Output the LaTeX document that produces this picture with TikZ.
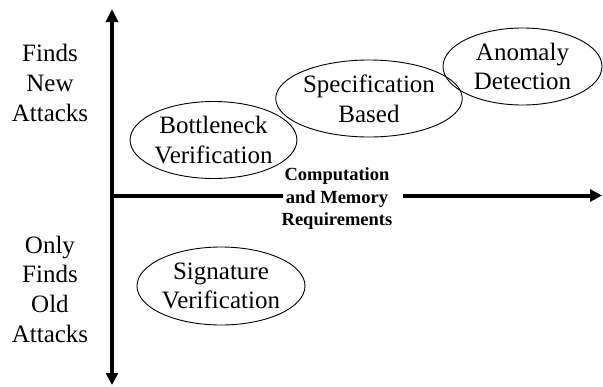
\documentclass[tikz,border=0pt]{standalone}
\usepackage{fontspec}
\setmainfont{Liberation Serif}
\usetikzlibrary{shapes.geometric,arrows.meta}
\begin{document}
\begin{tikzpicture}[x=1pt,y=-1pt,
  axis/.style={line width=4pt,-{Triangle[length=12pt,width=12pt]}},
  bigtext/.style={font=\fontsize{25}{29.7}\selectfont,align=center,inner sep=0pt},
  method/.style={bigtext,draw,ellipse,line width=0.9pt,minimum width=#1,minimum height=77pt},
  method/.default=166pt,
  boldlabel/.style={font=\fontsize{18.5}{22.5}\selectfont\bfseries,align=center,inner sep=0pt}]
\useasboundingbox (0,0) rectangle (603,386);
% axes
\coordinate (ytop) at (112,9);
\coordinate (ybot) at (112,385);
\coordinate (orig) at (112,195.5);
\coordinate (xl) at (283,195.5);
\coordinate (xr) at (403,195.5);
\coordinate (xend) at (602,195.5);
\draw[axis,{Triangle[length=13pt,width=12pt]}-{Triangle[length=12pt,width=12pt]}] (ytop) -- (ybot);
\draw[line width=4pt] (orig) -- (xl);
\draw[axis] (xr) -- (xend);
\node[boldlabel] (req) at (337,199) {Computation\\and Memory\\Requirements};
% side labels
\node[bigtext] (newatt) at (50,83) {Finds\\New\\Attacks};
\node[bigtext] (oldatt) at (50,289) {Only\\Finds\\Old\\Attacks};
% methods
\node[method=163pt] (bottle) at (213.5,140) {Bottleneck\\Verification};
\node[method=166pt] (spec) at (369,98.5) {Specification\\Based};
\node[method=159pt] (anom) at (522.5,66.5) {Anomaly\\Detection};
\node[method=168pt,minimum height=78pt] (sig) at (221,286) {Signature\\Verification};
\end{tikzpicture}
\end{document}
